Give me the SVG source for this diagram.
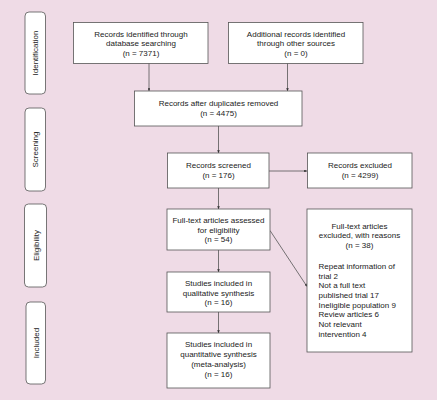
<svg xmlns="http://www.w3.org/2000/svg" width="437" height="400" viewBox="0 0 437 400">
<defs>
<marker id="ah" viewBox="0 0 6 6" refX="6" refY="3" markerWidth="3.5" markerHeight="3.5" orient="auto">
<path d="M0,0 L6,3 L0,6 z" fill="#333"/>
</marker>
<style>
.bg{fill:#efdbe6}
.box{fill:#fff;stroke:#555;stroke-width:0.8}
.side{fill:#fff;stroke:#555;stroke-width:0.8}
.t{font-family:"Liberation Sans",Arial,sans-serif;font-size:8px;fill:#222;text-anchor:middle}
.tl{font-family:"Liberation Sans",Arial,sans-serif;font-size:8px;fill:#222;text-anchor:start}
.c{stroke:#555;stroke-width:0.8;fill:none;marker-end:url(#ah)}
</style>
</defs>
<rect class="bg" x="0" y="0" width="437" height="400"/>

<g id="phase-identification">
<rect class="side" x="25" y="12" width="20.5" height="82" rx="4"/>
<text class="t" transform="translate(38,53) rotate(-90)">Identification</text>
</g>
<g id="phase-screening">
<rect class="side" x="25" y="108" width="20.5" height="83" rx="4"/>
<text class="t" transform="translate(38,149.5) rotate(-90)">Screening</text>
</g>
<g id="phase-eligibility">
<rect class="side" x="24.5" y="204" width="22" height="83" rx="4"/>
<text class="t" transform="translate(38.5,245.5) rotate(-90)">Eligibility</text>
</g>
<g id="phase-included">
<rect class="side" x="26" y="302" width="19.5" height="82" rx="4"/>
<text class="t" transform="translate(38.5,343) rotate(-90)">Included</text>
</g>

<g id="connectors">
<line class="c" x1="149" y1="63" x2="149" y2="91"/>
<line class="c" x1="287.5" y1="63" x2="287.5" y2="91"/>
<line class="c" x1="218.5" y1="126" x2="218.5" y2="153"/>
<line class="c" x1="269" y1="171" x2="307" y2="171"/>
<line class="c" x1="218.5" y1="188" x2="218.5" y2="209"/>
<line class="c" x1="270" y1="230.5" x2="307" y2="286.5"/>
<line class="c" x1="218.5" y1="250" x2="218.5" y2="272"/>
<line class="c" x1="218.5" y1="312" x2="218.5" y2="333"/>
</g>

<g id="n-database">
<rect class="box" x="73.5" y="22.5" width="134.5" height="41"/>
<text class="t" x="141" y="36.5">Records identified through</text>
<text class="t" x="141" y="46">database searching</text>
<text class="t" x="141" y="55.5">(n = 7371)</text>
</g>
<g id="n-other">
<rect class="box" x="228.5" y="22.5" width="134.5" height="41"/>
<text class="t" x="296" y="36.5">Additional records identified</text>
<text class="t" x="296" y="46">through other sources</text>
<text class="t" x="296" y="55.5">(n = 0)</text>
</g>
<g id="n-dedup">
<rect class="box" x="134.5" y="91" width="167.5" height="35"/>
<text class="t" x="218.5" y="105.5">Records after duplicates removed</text>
<text class="t" x="218.5" y="115.5">(n = 4475)</text>
</g>
<g id="n-screened">
<rect class="box" x="167.5" y="153" width="101.5" height="35"/>
<text class="t" x="218.5" y="168">Records screened</text>
<text class="t" x="218.5" y="178">(n = 176)</text>
</g>
<g id="n-excluded">
<rect class="box" x="307.5" y="153" width="104.5" height="35"/>
<text class="t" x="360" y="168">Records excluded</text>
<text class="t" x="360" y="178">(n = 4299)</text>
</g>
<g id="n-fulltext">
<rect class="box" x="167" y="209" width="103" height="41"/>
<text class="t" x="218.5" y="223">Full-text articles assessed</text>
<text class="t" x="218.5" y="232.5">for eligibility</text>
<text class="t" x="218.5" y="242">(n = 54)</text>
</g>
<g id="n-fulltext-excluded">
<rect class="box" x="307" y="209" width="105" height="143"/>
<text class="t" x="359.5" y="228.5">Full-text articles</text>
<text class="t" x="359.5" y="238">excluded, with reasons</text>
<text class="t" x="359.5" y="248">(n = 38)</text>
<text class="tl" x="318.5" y="269">Repeat information of</text>
<text class="tl" x="318.5" y="278.5">trial 2</text>
<text class="tl" x="318.5" y="288">Not a full text</text>
<text class="tl" x="318.5" y="298">published trial 17</text>
<text class="tl" x="318.5" y="307.5">Ineligible population 9</text>
<text class="tl" x="318.5" y="317">Review articles 6</text>
<text class="tl" x="318.5" y="327">Not relevant</text>
<text class="tl" x="318.5" y="336.5">intervention 4</text>
</g>
<g id="n-qualitative">
<rect class="box" x="167" y="272" width="103" height="40"/>
<text class="t" x="218.5" y="286">Studies included in</text>
<text class="t" x="218.5" y="295.5">qualitative synthesis</text>
<text class="t" x="218.5" y="305">(n = 16)</text>
</g>
<g id="n-quantitative">
<rect class="box" x="167" y="333" width="103" height="55"/>
<text class="t" x="218.5" y="347">Studies included in</text>
<text class="t" x="218.5" y="357">quantitative synthesis</text>
<text class="t" x="218.5" y="366.5">(meta-analysis)</text>
<text class="t" x="218.5" y="376.5">(n = 16)</text>
</g>
</svg>
